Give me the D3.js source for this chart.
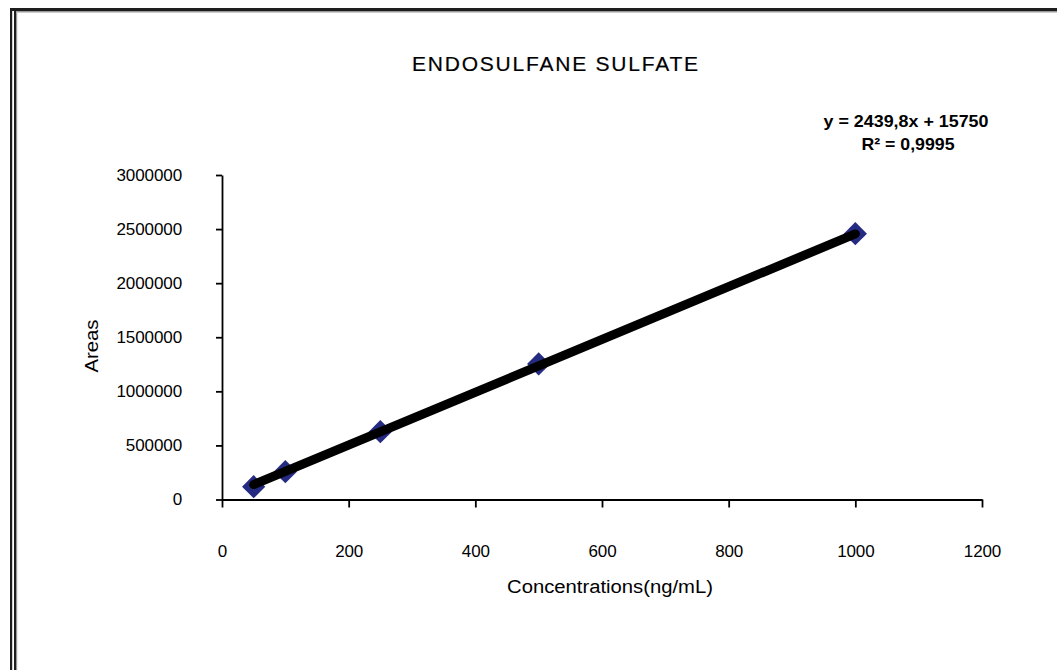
<!DOCTYPE html>
<html>
<head>
<meta charset="utf-8">
<script src="https://cdn.jsdelivr.net/npm/d3@7"></script>
<style>
  html, body { margin: 0; padding: 0; background: #fff; }
  svg { display: block; }
  text { font-family: "Liberation Sans", Arial, sans-serif; fill: #000; }
</style>
</head>
<body>
<svg id="chart" width="1057" height="670"></svg>
<script>
// Calibration data: concentration (ng/mL) vs. peak area
const concentrations = [50, 100, 250, 500, 1000];
const areas = [118000, 257000, 627000, 1253000, 2458000];

// Linear fit reported on the chart
const slope = 2439.8;
const intercept = 15750;
const equationText = "y = 2439,8x  +  15750";
const r2Text = "R² = 0,9995";

const xTicks = [0, 200, 400, 600, 800, 1000, 1200];
const yTicks = [0, 500000, 1000000, 1500000, 2000000, 2500000, 3000000];

const titleText = "ENDOSULFANE SULFATE";
const xLabel = "Concentrations(ng/mL)";
const yLabel = "Areas";

const svg = d3.select("#chart");
const W = 1057, H = 670;

svg.append("rect").attr("width", W).attr("height", H).attr("fill", "#fff");

// Frame around the chart area (top and left double edges)
const frame = svg.append("g");
frame.append("rect").attr("x", 10).attr("y", 8).attr("width", W - 10).attr("height", 3).attr("fill", "#1e1e1e");
frame.append("rect").attr("x", 14).attr("y", 11).attr("width", W - 14).attr("height", 1.5).attr("fill", "#9a9a9a");
frame.append("rect").attr("x", 10).attr("y", 8).attr("width", 2.2).attr("height", H - 8).attr("fill", "#1e1e1e");
frame.append("rect").attr("x", 14).attr("y", 11).attr("width", 2).attr("height", H - 11).attr("fill", "#1e1e1e");
frame.append("rect").attr("x", 16).attr("y", 12.5).attr("width", 1.2).attr("height", H - 12.5).attr("fill", "#9a9a9a");

// Scales
const x = d3.scaleLinear().domain([0, 1200]).range([222, 982]);
const y = d3.scaleLinear().domain([0, 3000000]).range([499.5, 175]);

// Axes
const xAxis = d3.axisBottom(x)
  .tickValues(xTicks)
  .tickFormat(d3.format("d"))
  .tickSize(8)
  .tickSizeOuter(0)
  .tickPadding(37);
const yAxis = d3.axisLeft(y)
  .tickValues(yTicks)
  .tickFormat(d3.format("d"))
  .tickSize(6)
  .tickSizeOuter(0)
  .tickPadding(34);

const gx = svg.append("g").attr("transform", `translate(0,${y(0)})`).call(xAxis);
const gy = svg.append("g").attr("transform", `translate(${x(0)},0)`).call(yAxis);

[gx, gy].forEach(g => {
  g.selectAll("path, line").attr("stroke", "#000").attr("stroke-width", 1.8);
  g.selectAll("text")
    .style("font-family", '"Liberation Sans", Arial, sans-serif')
    .style("font-size", "17px")
    .style("letter-spacing", "-0.1px")
    .attr("fill", "#1a1a1a");
});

// Data markers (diamonds)
svg.append("g").selectAll("path")
  .data(concentrations.map((c, i) => ({ c, a: areas[i] })))
  .join("path")
  .attr("d", d3.symbol().type(d3.symbolSquare).size(270))
  .attr("transform", d => `translate(${x(d.c)},${y(d.a)}) rotate(45)`)
  .attr("fill", "#262b82");

// Linear trendline over the measured range
const xMin = d3.min(concentrations), xMax = d3.max(concentrations);
svg.append("line")
  .attr("x1", x(xMin)).attr("y1", y(slope * xMin + intercept))
  .attr("x2", x(xMax)).attr("y2", y(slope * xMax + intercept))
  .attr("stroke", "#000")
  .attr("stroke-width", 9)
  .attr("stroke-linecap", "round");

// Title
svg.append("text")
  .attr("x", 555).attr("y", 71)
  .attr("text-anchor", "middle")
  .attr("textLength", 286).attr("lengthAdjust", "spacing")
  .style("font-size", "21px")
  .style("stroke", "#000").style("stroke-width", 0.2)
  .text(titleText);

// Fit equation
svg.append("text")
  .attr("x", 906).attr("y", 127)
  .attr("text-anchor", "middle")
  .attr("textLength", 165).attr("lengthAdjust", "spacingAndGlyphs")
  .style("font-size", "17px").style("font-weight", "bold")
  .attr("fill", "#1a1a1a")
  .text(equationText);
svg.append("text")
  .attr("x", 908).attr("y", 150)
  .attr("text-anchor", "middle")
  .attr("textLength", 93).attr("lengthAdjust", "spacingAndGlyphs")
  .style("font-size", "17px").style("font-weight", "bold")
  .attr("fill", "#1a1a1a")
  .text(r2Text);

// Axis titles
svg.append("text")
  .attr("x", 610).attr("y", 593)
  .attr("text-anchor", "middle")
  .attr("textLength", 206).attr("lengthAdjust", "spacingAndGlyphs")
  .style("font-size", "18px")
  .attr("fill", "#1a1a1a")
  .text(xLabel);
svg.append("text")
  .attr("transform", "translate(98,346) rotate(-90)")
  .attr("text-anchor", "middle")
  .attr("textLength", 53).attr("lengthAdjust", "spacingAndGlyphs")
  .style("font-size", "18px")
  .attr("fill", "#1a1a1a")
  .text(yLabel);
</script>
</body>
</html>
